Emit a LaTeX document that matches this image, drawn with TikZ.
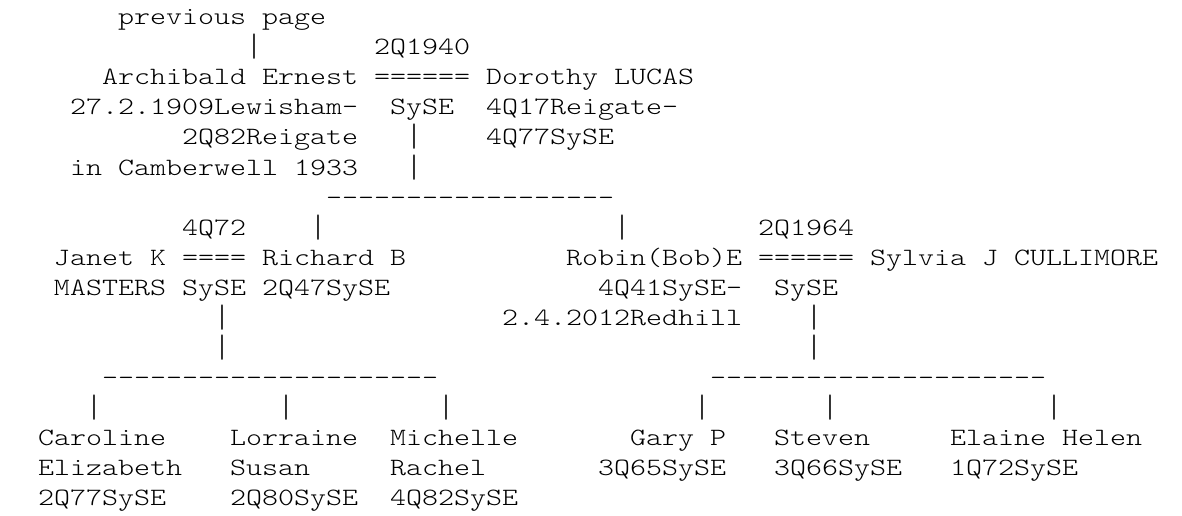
\documentclass[tikz,border=0pt]{standalone}
\usepackage{graphicx}
\usepackage{fontspec}
\newfontfamily\asciimono[FakeStretch=1.224]{lmmonolt10-regular.otf}
\newcommand{\vbar}{\raisebox{-2pt}[21pt][5pt]{\scalebox{1}[1.3]{|}}}

\begin{document}
\begin{tikzpicture}[x=16pt,y=-30pt,
    txt/.style={anchor=base west,inner sep=0pt,outer sep=0pt,font=\asciimono\fontsize{24.9pt}{30pt}\selectfont},
    person/.style={txt},
    detail/.style={txt},
    conn/.style={txt}]
  \useasboundingbox (-2.375,-0.8333) rectangle (71.5,16.3667);
  % parents
  \node[txt] (prev) at (5,0) {previous page};
  \node[conn] (up) at (13,1) {\vbar};
  \node[detail] (wed1) at (21,1) {2Q1940};
  \node[person] (archibald) at (4,2) {Archibald Ernest};
  \node[conn] (eq1) at (21,2) {======};
  \node[person] (dorothy) at (28,2) {Dorothy LUCAS};
  \node[detail] (archibald1) at (2,3) {27.2.1909Lewisham-};
  \node[detail] (wedplace1) at (22,3) {SySE};
  \node[detail] (dorothy1) at (28,3) {4Q17Reigate-};
  \node[detail] (archibald2) at (9,4) {2Q82Reigate};
  \node[conn] (down1a) at (23,4) {\vbar};
  \node[detail] (dorothy2) at (28,4) {4Q77SySE};
  \node[detail] (archibald3) at (2,5) {in Camberwell 1933};
  \node[conn] (down1b) at (23,5) {\vbar};
  \node[conn] (bar1) at (18,6) {------------------};
  % children
  \node[detail] (wed2) at (9,7) {4Q72};
  \node[conn] (drop1) at (17,7) {\vbar};
  \node[conn] (drop2) at (36,7) {\vbar};
  \node[detail] (wed3) at (45,7) {2Q1964};
  \node[person] (janet) at (1,8) {Janet K};
  \node[conn] (eq2) at (9,8) {====};
  \node[person] (richard) at (14,8) {Richard B};
  \node[person] (robin) at (33,8) {Robin(Bob)E};
  \node[conn] (eq3) at (45,8) {======};
  \node[person] (sylvia) at (52,8) {Sylvia J CULLIMORE};
  \node[person] (janet1) at (1,9) {MASTERS};
  \node[detail] (wedplace2) at (9,9) {SySE};
  \node[detail] (richard1) at (14,9) {2Q47SySE};
  \node[detail] (robin1) at (35,9) {4Q41SySE-};
  \node[detail] (wedplace3) at (46,9) {SySE};
  \node[conn] (down2a) at (11,10) {\vbar};
  \node[detail] (robin2) at (29,10) {2.4.2012Redhill};
  \node[conn] (down3a) at (48,10) {\vbar};
  \node[conn] (down2b) at (11,11) {\vbar};
  \node[conn] (down3b) at (48,11) {\vbar};
  \node[conn] (bar2) at (4,12) {---------------------};
  \node[conn] (bar3) at (42,12) {---------------------};
  % grandchildren
  \node[conn] (drop3) at (3,13) {\vbar};
  \node[conn] (drop4) at (15,13) {\vbar};
  \node[conn] (drop5) at (25,13) {\vbar};
  \node[conn] (drop6) at (41,13) {\vbar};
  \node[conn] (drop7) at (49,13) {\vbar};
  \node[conn] (drop8) at (63,13) {\vbar};
  \node[person] (caroline) at (0,14) {Caroline};
  \node[person] (lorraine) at (12,14) {Lorraine};
  \node[person] (michelle) at (22,14) {Michelle};
  \node[person] (gary) at (37,14) {Gary P};
  \node[person] (steven) at (46,14) {Steven};
  \node[person] (elaine) at (57,14) {Elaine Helen};
  \node[person] (caroline1) at (0,15) {Elizabeth};
  \node[person] (lorraine1) at (12,15) {Susan};
  \node[person] (michelle1) at (22,15) {Rachel};
  \node[detail] (gary1) at (35,15) {3Q65SySE};
  \node[detail] (steven1) at (46,15) {3Q66SySE};
  \node[detail] (elaine1) at (57,15) {1Q72SySE};
  \node[detail] (caroline2) at (0,16) {2Q77SySE};
  \node[detail] (lorraine2) at (12,16) {2Q80SySE};
  \node[detail] (michelle2) at (22,16) {4Q82SySE};
\end{tikzpicture}
\end{document}
